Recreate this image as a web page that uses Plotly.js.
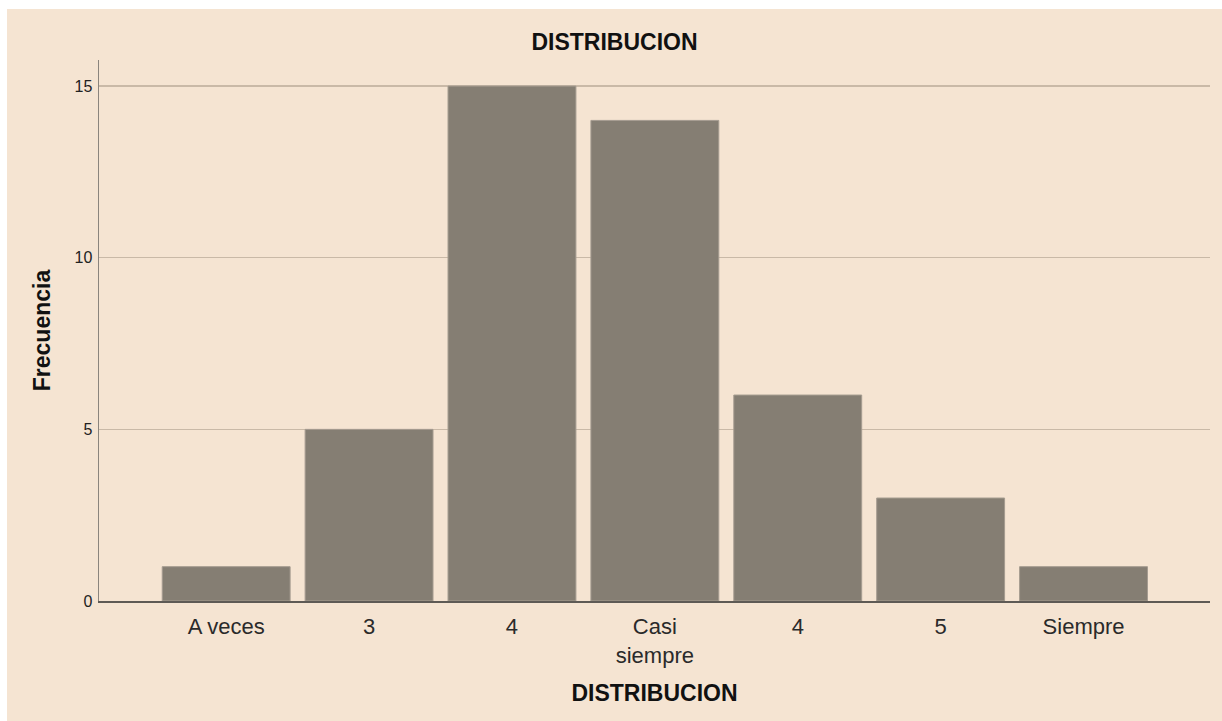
<!DOCTYPE html>
<html>
<head>
<meta charset="utf-8">
<script src="https://cdn.plot.ly/plotly-3.0.1.min.js"></script>
<style>
html, body { margin: 0; padding: 0; background: #ffffff; width: 1222px; height: 721px; overflow: hidden; }
#chart { position: absolute; left: 7px; top: 9px; width: 1215px; height: 712px; }
</style>
</head>
<body>
<div id="chart"></div>
<script>
const categories = ["A veces", "3", "4", "Casi<br>siempre", "4", "5", "Siempre"];
const frecuencia = [1, 5, 15, 14, 6, 3, 1];
const yTicks = [0, 5, 10, 15];

const positions = categories.map((_, i) => i);

const trace = {
  type: "bar",
  x: positions,
  y: frecuencia,
  width: 0.895,
  marker: { color: "#857E73", line: { color: "#A59C90", width: 1 } },
  hoverinfo: "skip"
};

const FONT = "Liberation Sans, Arial, sans-serif";

const layout = {
  width: 1215,
  height: 712,
  paper_bgcolor: "#F5E4D2",
  plot_bgcolor: "#F5E4D2",
  margin: { l: 92, r: 12, t: 51, b: 120 },
  showlegend: false,
  title: {
    text: "<b>DISTRIBUCION</b>",
    font: { family: FONT, size: 23, color: "#111111" },
    x: 0.5, xanchor: "center", y: 1 - 33 / 712, yanchor: "middle", yref: "container"
  },
  xaxis: {
    tickmode: "array",
    tickvals: positions,
    ticktext: categories,
    range: [-0.89, 6.885],
    showgrid: false,
    zeroline: false,
    showline: true,
    linecolor: "#5E5A55",
    linewidth: 1.5,
    ticks: "",
    ticklabelstandoff: 5,
    tickfont: { family: FONT, size: 22, color: "#2A2A2A" },
    title: {
      text: "<b>DISTRIBUCION</b>",
      font: { family: FONT, size: 23, color: "#111111" },
      standoff: 18
    },
    fixedrange: true
  },
  yaxis: {
    range: [0, 15.76],
    tickmode: "array",
    tickvals: yTicks,
    ticktext: yTicks.map(String),
    showgrid: true,
    gridcolor: "#C9B9A7",
    gridwidth: 1.5,
    zeroline: false,
    showline: true,
    linecolor: "#8A847D",
    linewidth: 1.5,
    ticks: "",
    ticklabelstandoff: 2,
    tickfont: { family: FONT, size: 16, color: "#222222" },
    title: {
      text: "<b>Frecuencia</b>",
      font: { family: FONT, size: 23, color: "#111111" },
      standoff: 17
    },
    fixedrange: true
  }
};

Plotly.newPlot("chart", [trace], layout, { displayModeBar: false, staticPlot: true });
</script>
</body>
</html>
